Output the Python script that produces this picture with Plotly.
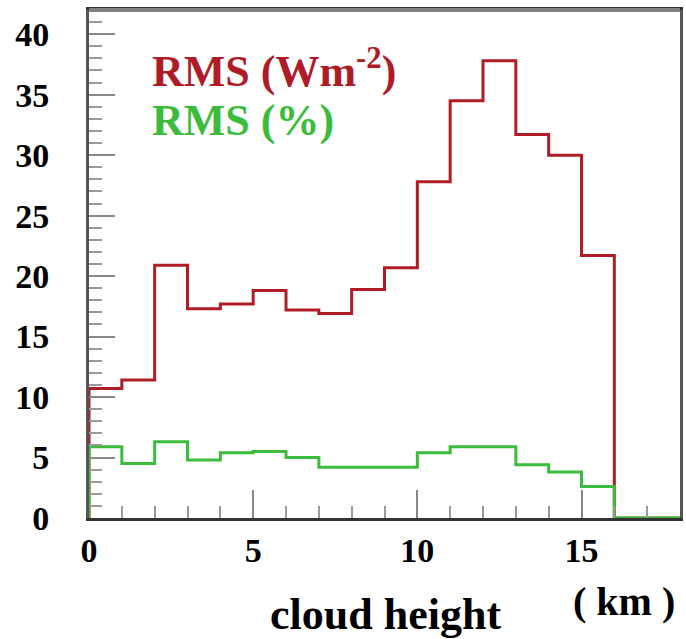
import plotly.graph_objects as go

# bin edges (km) and per-bin values
bin_edges = list(range(0, 19))
rms_wm2 = [10.7, 11.4, 20.9, 17.3, 17.7, 18.8, 17.2, 16.9, 18.9, 20.7,
           27.8, 34.5, 37.8, 31.7, 30.0, 21.7, 0.0, 0.0]
rms_pct = [5.9, 4.5, 6.3, 4.8, 5.4, 5.5, 5.0, 4.2, 4.2, 4.2,
           5.4, 5.9, 5.9, 4.4, 3.8, 2.6, 0.0, 0.0]
x_ticks = [0, 5, 10, 15]
y_ticks = [0, 5, 10, 15, 20, 25, 30, 35, 40]

RED = "#b01c26"
GREEN = "#3cbc3c"
FONT = "Liberation Serif"


def step_xy(edges, vals):
    xs = [edges[0]] + list(edges)
    ys = [0.0] + list(vals) + [vals[-1]]
    return xs, ys


fig = go.Figure()
xr, yr = step_xy(bin_edges, rms_wm2)
fig.add_trace(go.Scatter(x=xr, y=yr, mode="lines", line=dict(color=RED, width=3, shape="hv"),
                         showlegend=False, hoverinfo="skip"))
xg, yg = step_xy(bin_edges, rms_pct)
fig.add_trace(go.Scatter(x=xg, y=yg, mode="lines", line=dict(color=GREEN, width=3, shape="hv"),
                         showlegend=False, hoverinfo="skip"))

tickfont = dict(family=FONT, size=34, color="black", weight="bold")

fig.update_layout(
    width=686, height=639,
    margin=dict(l=89, r=3, t=10, b=121),
    paper_bgcolor="white", plot_bgcolor="white",
    xaxis=dict(range=[0, 18], tickvals=x_ticks, ticktext=[str(v) for v in x_ticks],
               ticks="inside", ticklen=28, tickwidth=2, tickcolor="#888",
               minor=dict(dtick=1, ticks="inside", ticklen=12, tickwidth=2, tickcolor="#999", showgrid=False),
               showgrid=False, zeroline=False,
               showline=True, linecolor="#333", linewidth=3, mirror=True,
               tickfont=tickfont, ticklabelstandoff=0),
    yaxis=dict(range=[0, 42], tickvals=y_ticks, ticktext=[str(v) for v in y_ticks],
               ticks="inside", ticklen=26, tickwidth=2, tickcolor="#888",
               minor=dict(dtick=1, ticks="inside", ticklen=13, tickwidth=2, tickcolor="#999", showgrid=False),
               showgrid=False, zeroline=False,
               showline=True, linecolor="#555", linewidth=3, mirror=True,
               tickfont=tickfont, ticklabelstandoff=30),
    shapes=[dict(type="line", xref="paper", yref="paper", x0=0, x1=1, y0=1, y1=1,
                 line=dict(color="#808080", width=4))],
    annotations=[
        dict(text="RMS (Wm<sup>-2</sup>)", x=0.103, y=0.884, xref="paper", yref="paper",
             xanchor="left", yanchor="middle", showarrow=False,
             font=dict(family=FONT, size=44, color=RED, weight="bold")),
        dict(text="RMS (%)", x=0.103, y=0.783, xref="paper", yref="paper",
             xanchor="left", yanchor="middle", showarrow=False,
             font=dict(family=FONT, size=44, color=GREEN, weight="bold")),
        dict(text="cloud height", x=0.502, y=-0.189, xref="paper", yref="paper",
             xanchor="center", yanchor="middle", showarrow=False,
             font=dict(family=FONT, size=44, color="black", weight="bold")),
        dict(text="( km )", x=0.905, y=-0.165, xref="paper", yref="paper",
             xanchor="center", yanchor="middle", showarrow=False,
             font=dict(family=FONT, size=40, color="black", weight="bold")),
    ],
)

fig.write_html("out.html")
